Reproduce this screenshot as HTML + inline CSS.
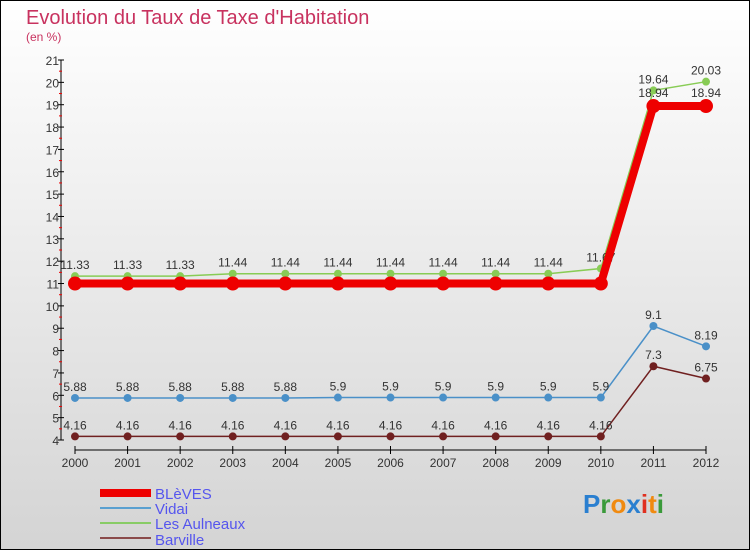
<!DOCTYPE html>
<html><head><meta charset="utf-8"><style>
body{margin:0}
#c{width:750px;height:550px;position:relative;overflow:hidden;font-family:"Liberation Sans",sans-serif}
</style></head><body>
<div id="c">
<svg id="s" width="750" height="550" xmlns="http://www.w3.org/2000/svg">
<defs><linearGradient id="bg" x1="0" y1="0" x2="0" y2="1"><stop offset="0" stop-color="#ffffff"/><stop offset="1" stop-color="#d4d4d4"/></linearGradient></defs>
<rect x="0.5" y="0.5" width="749" height="549" fill="url(#bg)" stroke="#000"/>
<text x="26" y="24" font-size="20" fill="#c8325f">Evolution du Taux de Taxe d'Habitation</text>
<text x="26" y="41" font-size="12" fill="#c8325f">(en %)</text>
<g id="axes"></g><g id="series"></g>
<g>
<rect x="100" y="489" width="51" height="8" fill="#e00"/>
<text x="155" y="499" font-size="15" fill="#5555ee">BLèVES</text>
<rect x="100" y="507" width="51" height="2" fill="#5aa0d0"/>
<text x="155" y="514" font-size="15" fill="#5555ee">Vidai</text>
<rect x="100" y="522" width="51" height="2" fill="#88cc66"/>
<text x="155" y="529" font-size="15" fill="#5555ee">Les Aulneaux</text>
<rect x="100" y="537" width="51" height="2" fill="#8a4a4a"/>
<text x="155" y="545" font-size="15" fill="#5555ee">Barville</text>
</g>
<text x="583" y="513" font-size="26" font-weight="bold"><tspan fill="#2a7fd0">P</tspan><tspan fill="#3a9a3a">r</tspan><tspan fill="#f08a10">o</tspan><tspan fill="#2a7fd0">x</tspan><tspan fill="#e03020">i</tspan><tspan fill="#f08a10">t</tspan><tspan fill="#3a9a3a">i</tspan></text>
</svg></div>
<script>
const years=[2000,2001,2002,2003,2004,2005,2006,2007,2008,2009,2010,2011,2012];
const yTicks=[4,5,6,7,8,9,10,11,12,13,14,15,16,17,18,19,20,21];
const bleves=[11,11,11,11,11,11,11,11,11,11,11,18.94,18.94];
const vidai=[5.88,5.88,5.88,5.88,5.88,5.9,5.9,5.9,5.9,5.9,5.9,9.1,8.19];
const aulneaux=[11.33,11.33,11.33,11.44,11.44,11.44,11.44,11.44,11.44,11.44,11.67,19.64,20.03];
const barville=[4.16,4.16,4.16,4.16,4.16,4.16,4.16,4.16,4.16,4.16,4.16,7.3,6.75];
const NS="http://www.w3.org/2000/svg";
const X=i=>75+i*(706-75)/(years.length-1);
const Y=v=>440-(v-4)*(380/17);
function mk(t,a,p){const e=document.createElementNS(NS,t);for(const k in a)e.setAttribute(k,a[k]);p.appendChild(e);return e;}
const ax=document.getElementById('axes'),sr=document.getElementById('series');
let l=mk('line',{x1:61,y1:Y(21),x2:61,y2:Y(4),stroke:'#000'},ax);


l=mk('line',{x1:X(0),y1:450,x2:X(12),y2:450,stroke:'#000'},ax);


yTicks.forEach(v=>{
 mk('line',{x1:58,y1:Y(v),x2:64,y2:Y(v),stroke:'#000'},ax);
 if(v<21)mk('line',{x1:59,y1:Y(v+0.5),x2:62,y2:Y(v+0.5),stroke:'#e00'},ax);
 const t=mk('text',{x:59,y:Y(v)+5,'font-size':12,fill:'#333','text-anchor':'end'},ax);t.textContent=v;
 
 
});
years.forEach((y,i)=>{
 mk('line',{x1:X(i),y1:446,x2:X(i),y2:454,stroke:'#000'},ax);
 const t=mk('text',{x:X(i),y:467,'font-size':12,fill:'#333','text-anchor':'middle'},ax);t.textContent=y;
 
 
});
function series(name,d,col,w,r,labels,dy){
 const g=mk('g',{},sr);
 
 
 mk('polyline',{points:d.map((v,i)=>X(i)+','+Y(v)).join(' '),fill:'none',stroke:col,'stroke-width':w},g);
 d.forEach((v,i)=>{
  const c=mk('circle',{cx:X(i),cy:Y(v),r:r,fill:col},g);
  
  
  if(labels){const t=mk('text',{x:X(i),y:Y(v)+dy,'font-size':12,fill:'#333','text-anchor':'middle'},g);t.textContent=v;
  
  }
 });
}
series('barville',barville,'#702020',1.5,4,true,-7);
series('vidai',vidai,'#4a90c8',1.5,4,true,-7);
series('les-aulneaux',aulneaux,'#88cc55',1.5,4,true,-7);
series('bleves',bleves,'#ee0000',8,7,false,0);
[11,12].forEach(i=>{const t=mk('text',{x:X(i),y:Y(bleves[i])-9,'font-size':12,fill:'#333','text-anchor':'middle'},sr);t.textContent=bleves[i];

});
</script>
</body></html>
